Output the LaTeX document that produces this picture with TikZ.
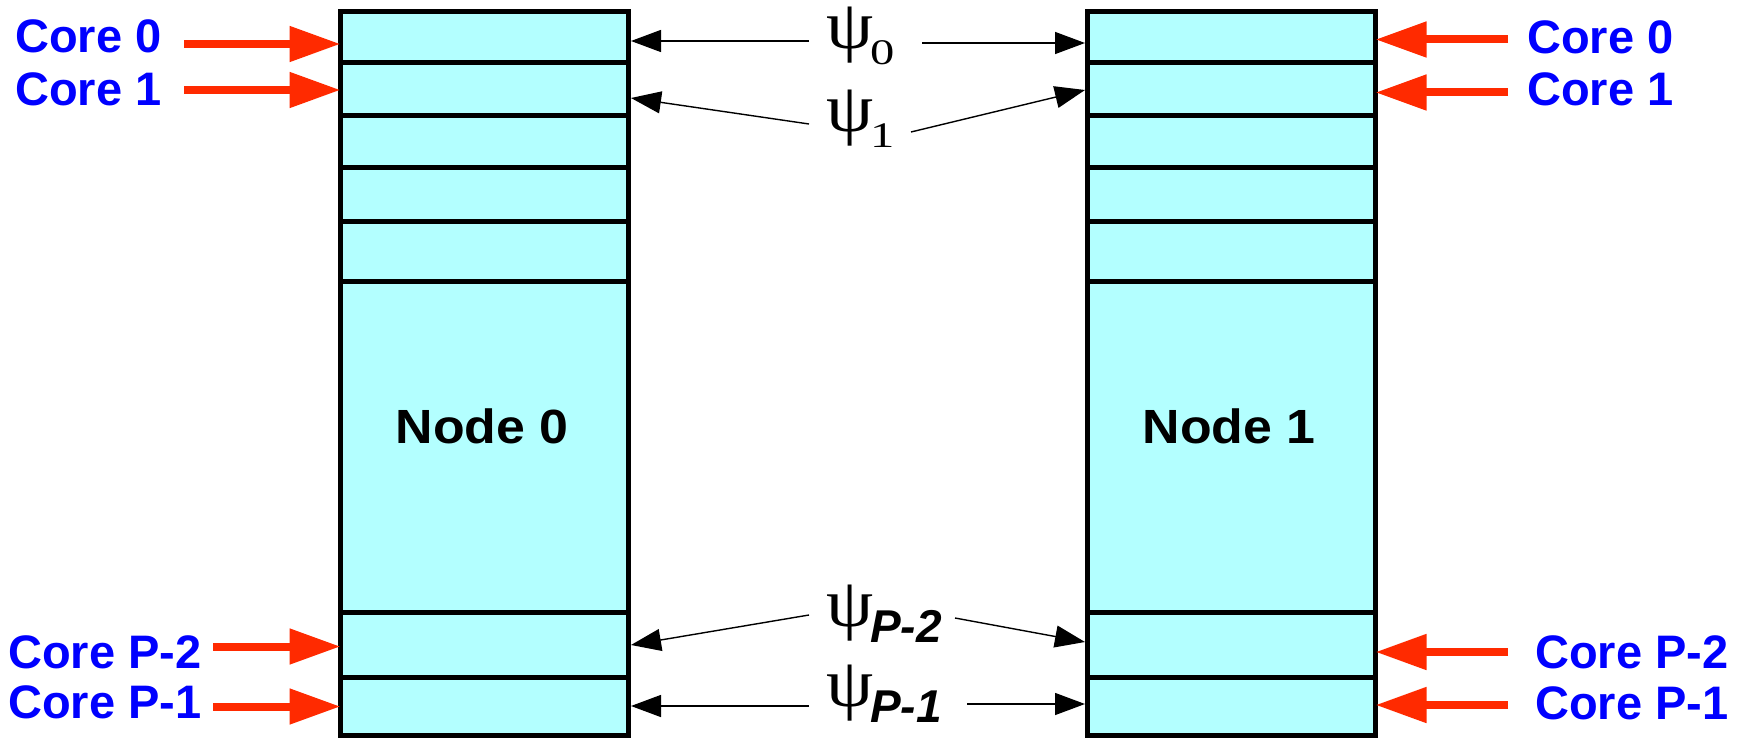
\documentclass[tikz,border=0pt]{standalone}
\usepackage{fontspec}
\setmainfont{Liberation Serif}
\newfontfamily\arialf{Liberation Sans}
\newfontfamily\arialwide[FakeStretch=1.08]{Liberation Sans}
\newfontfamily\psifont[FakeStretch=1.09]{Liberation Serif}
\newfontfamily\subfont[FakeStretch=1.35]{Liberation Serif}
\usetikzlibrary{arrows.meta}
\definecolor{cellfill}{RGB}{179,255,255}
\definecolor{corered}{RGB}{255,42,0}
\definecolor{coreblue}{RGB}{0,0,255}
\newcommand{\psisym}{\makebox[44pt][l]{\psifont\fontsize{69}{69}\selectfont ψ}}
\newcommand{\subnum}[1]{\raisebox{-16pt}{\subfont\fontsize{36}{36}\selectfont #1}}
\newcommand{\subP}[1]{\raisebox{-16pt}{\arialf\bfseries\itshape\fontsize{46}{46}\selectfont #1}}
\begin{document}
\begin{tikzpicture}[x=1pt,y=-1pt,
  cell/.style={draw=black, line width=5pt, fill=cellfill, minimum width=288pt, inner sep=0pt, outer sep=0pt, anchor=north west},
  corelbl/.style={text=coreblue, font=\arialf\bfseries\fontsize{47}{47}\selectfont, inner sep=0pt, anchor=base west},
  nodelbl/.style={text=black, font=\arialwide\bfseries\fontsize{48}{48}\selectfont, inner sep=0pt, anchor=base},
  psilbl/.style={inner sep=0pt, anchor=base west},
  redarr/.style={draw=corered, line width=8pt, -{Triangle[length=51pt,width=34pt]}},
  blkarr/.style={draw=black, line width=1.4pt, -{Triangle[length=30pt,width=22pt]}}]
\useasboundingbox[fill=white] (0,0) rectangle (1745,738);
% columns
\foreach \n/\t/\h in {0/12/51, 1/63/53, 2/116/52, 3/168/54, 4/222/59, 5/281/331, 6/612/65, 7/677/58} {
  \node[cell, minimum height=\h pt] (L\n) at (340.5,\t) {};
  \node[cell, minimum height=\h pt] (R\n) at (1087.5,\t) {};
}
\node[nodelbl] (n0) at (482,443) {Node 0};
\node[nodelbl] (n1) at (1229,443) {Node 1};
% core labels
\node[corelbl] (cl0) at (15,53) {Core 0};
\node[corelbl] (cl1) at (15,106) {Core 1};
\node[corelbl] (cl6) at (8,668) {Core P-2};
\node[corelbl] (cl7) at (8,718) {Core P-1};
\node[corelbl] (cr0) at (1527,54) {Core 0};
\node[corelbl] (cr1) at (1527,106) {Core 1};
\node[corelbl] (cr6) at (1535,668) {Core P-2};
\node[corelbl] (cr7) at (1535,719) {Core P-1};
% red arrows
\coordinate (rl0) at (184,44);
\coordinate (rl1) at (184,90);
\coordinate (rl6) at (213,646.5);
\coordinate (rl7) at (213,706.5);
\coordinate (rr0) at (1508,39.5);
\coordinate (rr1) at (1508,92.5);
\coordinate (rr6) at (1508,652);
\coordinate (rr7) at (1508,705);
\draw[redarr] (rl0) -- (L0.west |- rl0);
\draw[redarr] (rl1) -- (L1.west |- rl1);
\draw[redarr] (rl6) -- (L6.west |- rl6);
\draw[redarr] (rl7) -- (L7.west |- rl7);
\draw[redarr] (rr0) -- (R0.east |- rr0);
\draw[redarr] (rr1) -- (R1.east |- rr1);
\draw[redarr] (rr6) -- (R6.east |- rr6);
\draw[redarr] (rr7) -- (R7.east |- rr7);
% psi labels
\node[psilbl] (p0) at (826,49) {\psisym\subnum{0}};
\node[psilbl] (p1) at (826,132) {\psisym\subnum{1}};
\node[psilbl] (p6) at (826,626) {\psisym\subP{P-2}};
\node[psilbl] (p7) at (826,706) {\psisym\subP{P-1}};
% black arrows
\coordinate (t0l) at (809,41);   \coordinate (h0l) at (631,41);
\coordinate (t0r) at (922,43);   \coordinate (h0r) at (1085,43);
\coordinate (t1l) at (809,124);  \coordinate (h1l) at (631,98);
\coordinate (t1r) at (911,132);  \coordinate (h1r) at (1085,90);
\coordinate (t6l) at (809,615);  \coordinate (h6l) at (631,645);
\coordinate (t6r) at (955,618);  \coordinate (h6r) at (1085,642);
\coordinate (t7l) at (809,706);  \coordinate (h7l) at (631,706);
\coordinate (t7r) at (967,704);  \coordinate (h7r) at (1085,704);
\draw[blkarr] (t0l) -- (h0l);
\draw[blkarr] (t0r) -- (h0r);
\draw[blkarr] (t1l) -- (h1l);
\draw[blkarr] (t1r) -- (h1r);
\draw[blkarr] (t6l) -- (h6l);
\draw[blkarr] (t6r) -- (h6r);
\draw[blkarr] (t7l) -- (h7l);
\draw[blkarr] (t7r) -- (h7r);
\end{tikzpicture}
\end{document}
